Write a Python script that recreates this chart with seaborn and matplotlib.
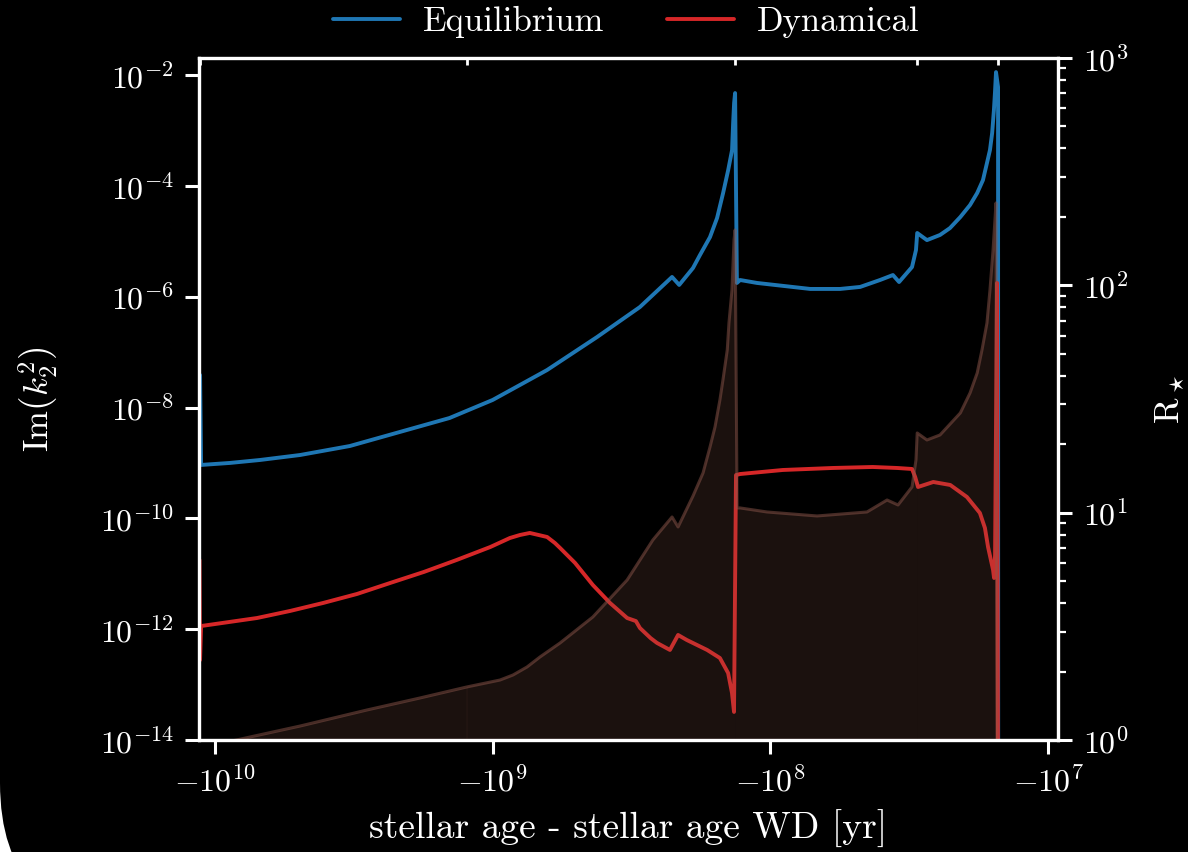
import numpy as np
import pandas as pd
import matplotlib
matplotlib.use("Agg")
import matplotlib.pyplot as plt
from matplotlib.patches import FancyBboxPatch
from matplotlib.ticker import FixedLocator, NullLocator, LogLocator, NullFormatter
import seaborn as sns

# --- tidal response, equilibrium tide -------------------------------------
eq_age = [-1.132e10, -1.122e10, -8.83e9, -6.89e9, -4.94e9, -3.27e9, -2.16e9,
          -1.43e9, -1.00e9, -7.98e8, -6.37e8, -4.21e8, -2.95e8, -2.26e8,
          -2.13e8, -1.90e8, -1.793e8, -1.65e8, -1.556e8, -1.48e8, -1.419e8,
          -1.374e8, -1.362e8, -1.351e8, -1.34e8, -1.32e8, -1.285e8, -1.117e8,
          -7.19e7, -5.61e7, -4.75e7, -4.03e7, -3.62e7, -3.44e7, -3.09e7,
          -2.99e7, -2.96e7, -2.73e7, -2.45e7, -2.256e7, -2.07e7, -1.91e7,
          -1.80e7, -1.716e7, -1.66e7, -1.619e7, -1.59e7, -1.567e7, -1.553e7,
          -1.54e7, -1.514e7, -1.512e7]
eq_imk2 = [3.86e-8, 9.2e-10, 1.0e-9, 1.13e-9, 1.39e-9, 2.02e-9, 3.62e-9,
           6.47e-9, 1.37e-8, 2.55e-8, 4.75e-8, 1.87e-7, 6.51e-7, 2.27e-6,
           1.63e-6, 3.29e-6, 5.65e-6, 1.19e-5, 2.63e-5, 7.43e-5, 1.93e-4,
           4.44e-4, 1.36e-3, 3.13e-3, 4.73e-3, 1.77e-6, 2.0e-6, 1.77e-6,
           1.38e-6, 1.38e-6, 1.50e-6, 2.0e-6, 2.46e-6, 1.84e-6, 3.43e-6,
           6.95e-6, 1.41e-5, 1.05e-5, 1.30e-5, 1.73e-5, 2.74e-5, 4.51e-5,
           7.43e-5, 1.27e-4, 2.58e-4, 4.44e-4, 8.98e-4, 2.33e-3, 4.93e-3,
           1.13e-2, 6.07e-3, 1e-16]

# --- tidal response, dynamical tide ---------------------------------------
dyn_age = [-1.137e10, -1.132e10, -1.122e10, -7.06e9, -5.37e9, -4.08e9,
           -3.08e9, -2.34e9, -1.768e9, -1.35e9, -1.02e9, -8.67e8, -7.975e8,
           -7.35e8, -6.37e8, -5.97e8, -5.72e8, -5.053e8, -4.36e8, -3.78e8,
           -3.28e8, -3.05e8, -2.95e8, -2.70e8, -2.56e8, -2.30e8, -2.15e8,
           -2.0e8, -1.69e8, -1.52e8, -1.42e8, -1.375e8, -1.352e8, -1.33e8,
           -1.285e8, -9.02e7, -5.96e7, -4.28e7, -3.50e7, -3.09e7, -3.01e7,
           -2.94e7, -2.59e7, -2.25e7, -1.96e7, -1.76e7, -1.688e7, -1.645e7,
           -1.578e7, -1.565e7, -1.552e7, -1.527e7, -1.514e7]
dyn_imk2 = [1.77e-11, 2.78e-13, 1.14e-12, 1.59e-12, 2.13e-12, 2.97e-12,
            4.32e-12, 6.82e-12, 1.08e-11, 1.77e-11, 3.04e-11, 4.42e-11,
            5.01e-11, 5.45e-11, 4.61e-11, 3.59e-11, 2.92e-11, 1.57e-11,
            6.28e-12, 2.97e-12, 1.59e-12, 1.40e-12, 1.05e-12, 6.9e-13,
            5.64e-13, 4.22e-13, 7.86e-13, 6.38e-13, 4.22e-13, 3.02e-13,
            1.62e-13, 7.06e-14, 3.21e-14, 6.05e-10, 6.31e-10, 7.46e-10,
            8.11e-10, 8.45e-10, 8.11e-10, 7.78e-10, 5.57e-10, 3.68e-10,
            4.53e-10, 4.0e-10, 2.43e-10, 1.25e-10, 6.7e-11, 3.04e-11,
            1.17e-11, 8.39e-12, 2.18e-11, 1.77e-6, 1e-16]

# --- stellar radius [R_sun] -----------------------------------------------
radius_age = [-1.132e10, -7.48e9, -4.94e9, -2.84e9, -1.83e9, -1.24e9,
              -9.41e8, -8.45e8, -7.524e8, -6.76e8, -5.72e8, -4.36e8, -3.28e8,
              -2.65e8, -2.26e8, -2.15e8, -1.90e8, -1.748e8, -1.65e8,
              -1.583e8, -1.52e8, -1.482e8, -1.43e8, -1.41e8, -1.375e8,
              -1.352e8, -1.34e8, -1.318e8, -1.285e8, -1.028e8, -6.79e7,
              -4.49e7, -3.80e7, -3.47e7, -3.09e7, -2.99e7, -2.96e7, -2.73e7,
              -2.45e7, -2.07e7, -1.91e7, -1.80e7, -1.73e7, -1.66e7, -1.619e7,
              -1.578e7, -1.54e7, -1.514e7]
radius_rsun = [0.922, 1.031, 1.152, 1.355, 1.530, 1.711, 1.836, 1.932, 2.095,
               2.318, 2.672, 3.476, 5.058, 7.585, 9.575, 8.652, 11.84, 14.95,
               19.45, 23.82, 31.32, 38.36, 51.97, 68.32, 95.46, 158.4, 175.3,
               10.49, 10.49, 10.07, 9.672, 10.07, 11.37, 10.81, 12.98, 17.06,
               22.42, 20.88, 21.97, 27.46, 33.62, 41.17, 51.97, 68.32, 95.46,
               143.1, 230.4, 0.013]

# evolutionary phase boundaries (start, end of MS, RGB tip, start of AGB, end)
phase_bounds = [-1.132e10, -1.24e9, -1.34e8, -2.96e7, -1.514e7]

series_labels = ["Equilibrium", "Dynamical"]
BLUE, RED, BROWN = "#1f77b4", "#d62728", "#8c564b"
FG = "white"

sns.set_theme(style="ticks", rc={
    "axes.facecolor": "black", "figure.facecolor": "white",
    "axes.edgecolor": FG, "axes.labelcolor": FG,
    "xtick.color": FG, "ytick.color": FG, "text.color": FG,
})
plt.rcParams.update({
    "font.family": "serif",
    "font.serif": ["cmr10"],
    "mathtext.fontset": "cm",
    "axes.formatter.use_mathtext": True,
})

fig = plt.figure(figsize=(11.88, 8.52), dpi=100)
fig.patch.set_facecolor("white")
# dark slide panel with a rounded lower-left corner
fig.add_artist(FancyBboxPatch((0.0, -0.72), 15.0, 12.0,
                              boxstyle="round,pad=0,rounding_size=1.41",
                              transform=fig.dpi_scale_trans,
                              facecolor="black", edgecolor="none", zorder=-10))

ax = fig.add_axes([199 / 1188, 1 - 740 / 852, (1058 - 199) / 1188, (740 - 58) / 852])
ax.set_facecolor("black")
ax.set_xscale("symlog", linthresh=1e5)
ax.set_yscale("log")

eq_df = pd.DataFrame({"age": eq_age, "imk2": eq_imk2})
dyn_df = pd.DataFrame({"age": dyn_age, "imk2": dyn_imk2})
sns.lineplot(data=eq_df, x="age", y="imk2", ax=ax, color=BLUE, lw=2.8,
             sort=False, estimator=None, label=series_labels[0])
sns.lineplot(data=dyn_df, x="age", y="imk2", ax=ax, color=RED, lw=2.8,
             sort=False, estimator=None, label=series_labels[1])
handles, labels = ax.get_legend_handles_labels()
if ax.get_legend() is not None:
    ax.get_legend().remove()

ax.set_xlim(-1.142e10, -9.21e6)
ax.set_ylim(1e-14, 2.03e-2)
ax.yaxis.set_major_locator(FixedLocator([1e-14, 1e-12, 1e-10, 1e-8, 1e-6, 1e-4, 1e-2]))
ax.yaxis.set_minor_locator(NullLocator())
ax.xaxis.set_major_locator(FixedLocator([-1e10, -1e9, -1e8, -1e7]))
ax.xaxis.set_minor_locator(FixedLocator(phase_bounds))
ax.xaxis.set_minor_formatter(NullFormatter())

# stellar radius on a twin axis, shaded phase by phase
ax2 = ax.twinx()
ax2.set_yscale("log")
r_age = np.array(radius_age)
r_val = np.array(radius_rsun)
for lo, hi in zip(phase_bounds[:-1], phase_bounds[1:]):
    m = (r_age >= lo) & (r_age <= hi)
    ax2.fill_between(r_age[m], r_val[m], 1e-3, color=BROWN, alpha=0.2, lw=0)
sns.lineplot(x=r_age, y=r_val, ax=ax2, color=BROWN, alpha=0.5, lw=2.2,
             sort=False, estimator=None, legend=False)
ax2.set_ylim(1, 1000)
ax2.yaxis.set_major_locator(FixedLocator([1, 10, 100, 1000]))
ax2.yaxis.set_minor_locator(LogLocator(base=10, subs=np.arange(2, 10)))
ax2.yaxis.set_minor_formatter(NullFormatter())
ax2.set_xlim(-1.142e10, -9.21e6)

for a in (ax, ax2):
    for s in a.spines.values():
        s.set_color(FG)
        s.set_linewidth(2.3)

ax.tick_params(axis="both", which="major", length=10, width=2.2, color=FG,
               labelcolor=FG, labelsize=23, pad=8)
ax.tick_params(axis="x", which="minor", bottom=False, top=True, direction="in",
               length=5, width=2.0, color=FG)
ax2.tick_params(axis="y", which="major", length=10, width=2.2, color=FG,
                labelcolor=FG, labelsize=23, pad=8)
ax2.tick_params(axis="y", which="minor", length=6, width=1.6, color=FG)

ax.set_xlabel("stellar age - stellar age WD [yr]", fontsize=27, color=FG)
ax.set_ylabel(r"$\mathrm{Im}\left(k_2^2\right)$", fontsize=25, color=FG)
ax2.set_ylabel(r"$\mathrm{R}_\star$", fontsize=25, color=FG)
ax.xaxis.set_label_coords(0.5, -0.103)
ax.yaxis.set_label_coords(-0.162, 0.5)
ax2.yaxis.set_label_coords(1.111, 0.5)

fig.legend(handles, labels, loc="center", bbox_to_anchor=(0.527, 0.974),
           ncol=2, frameon=False, fontsize=25, handlelength=1.93,
           handletextpad=0.66, columnspacing=1.8, labelcolor=FG)

fig.savefig("out.png", dpi=100, facecolor=fig.get_facecolor())
